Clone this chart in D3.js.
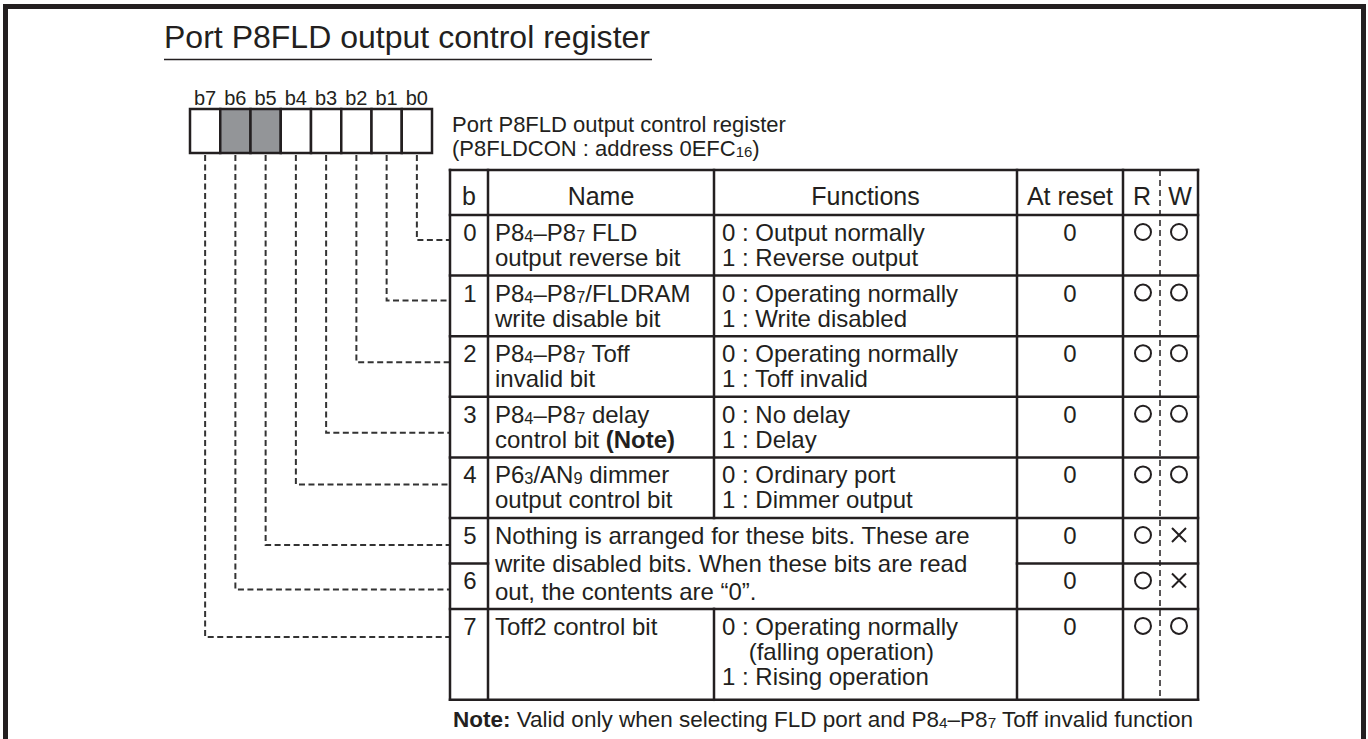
<!DOCTYPE html>
<html><head><meta charset="utf-8">
<script src="https://cdn.jsdelivr.net/npm/d3@7"></script>
<style>body{margin:0;background:#fff} svg{display:block} text{white-space:pre}</style>
</head><body>
<svg id="c" width="1368" height="739"></svg>
<script>
// ---------- data ----------
const titleText = "Port P8FLD output control register";
const registerBits = [7, 6, 5, 4, 3, 2, 1, 0];
const bitLabels = ["b7", "b6", "b5", "b4", "b3", "b2", "b1", "b0"];
const unusedBits = [6, 5];
const registerDesc = ["Port P8FLD output control register", "(P8FLDCON : address 0EFC{16})"];
const headers = ["b", "Name", "Functions", "At reset", "R", "W"];
const rowBits = [0, 1, 2, 3, 4, 5, 6, 7];
const rowLines = [2, 2, 2, 2, 2, 1.5, 1.5, 3];
const names = [
  ["P8{4}–P8{7} FLD", "output reverse bit"],
  ["P8{4}–P8{7}/FLDRAM", "write disable bit"],
  ["P8{4}–P8{7} Toff", "invalid bit"],
  ["P8{4}–P8{7} delay", "control bit **(Note)**"],
  ["P6{3}/AN{9} dimmer", "output control bit"],
  null, null,
  ["Toff2 control bit"]
];
const functionsText = [
  ["0 : Output normally", "1 : Reverse output"],
  ["0 : Operating normally", "1 : Write disabled"],
  ["0 : Operating normally", "1 : Toff invalid"],
  ["0 : No delay", "1 : Delay"],
  ["0 : Ordinary port", "1 : Dimmer output"],
  null, null,
  ["0 : Operating normally", "    (falling operation)", "1 : Rising operation"]
];
const mergedRows = [5, 6];
const mergedText = [
  "Nothing is arranged for these bits. These are",
  "write disabled bits. When these bits are read",
  "out, the contents are “0”."
];
const atReset = ["0", "0", "0", "0", "0", "0", "0", "0"];
const readFlags = ["O", "O", "O", "O", "O", "O", "O", "O"];
const writeFlags = ["O", "O", "O", "O", "O", "X", "X", "O"];
const noteText = "**Note:** Valid only when selecting FLD port and P8{4}–P8{7} Toff invalid function";

// ---------- layout ----------
const INK = "#231f20";
const FONT = "'Liberation Sans', Arial, Helvetica, sans-serif";
const svg = d3.select("#c");

const xBit = d3.scaleBand().domain(registerBits).range([190, 432]);
const regTop = 109, regBottom = 153;
const colKeys = ["b", "name", "func", "reset", "r", "w", "end"];
const colX = d3.scaleOrdinal().domain(colKeys).range([450, 488, 714, 1017, 1123, 1160, 1198]);
const headTop = 170, headBottom = 215;
const cum = [0]; rowLines.forEach((l, i) => cum.push(cum[i] + l));
const yUnit = d3.scaleLinear().domain([0, cum[cum.length - 1]]).range([headBottom, 699.8]);
const rowTop = i => yUnit(cum[i]);
const rowBottom = i => yUnit(cum[i + 1]);
const connOffset = [25, 25, 26, 36, 27, 27, 26, 28];

function richText(g, str, x, y, size, anchor) {
  const t = g.append("text").attr("x", x).attr("y", y)
    .attr("font-family", FONT).attr("font-size", size).attr("fill", INK)
    .attr("text-anchor", anchor || "start");
  const parts = str.split(/(\{[^}]*\}|\*\*[^*]+\*\*)/).filter(s => s.length);
  let shifted = false;
  parts.forEach(p => {
    if (p.startsWith("{")) {
      t.append("tspan").attr("font-size", "0.68em").attr("dy", shifted ? 0 : 1).text(p.slice(1, -1));
      shifted = true;
    } else {
      const ts = t.append("tspan");
      if (shifted) { ts.attr("dy", -1); shifted = false; }
      if (p.startsWith("**")) ts.attr("font-weight", "bold").text(p.slice(2, -2));
      else ts.text(p);
    }
  });
  return t;
}

// outer frame
svg.append("path").attr("d", "M5.5,760V6.5H1363.5V760")
  .attr("fill", "none").attr("stroke", INK).attr("stroke-width", 5);

// title
svg.append("text").attr("x", 164).attr("y", 48).attr("font-family", FONT)
  .attr("font-size", 32).attr("fill", INK).attr("textLength", 486).text(titleText);
svg.append("line").attr("x1", 164).attr("x2", 652).attr("y1", 59.5).attr("y2", 59.5)
  .attr("stroke", INK).attr("stroke-width", 1.5);

// bit labels
svg.append("g").selectAll("text").data(registerBits).join("text")
  .attr("x", d => xBit(d) + xBit.bandwidth() / 2).attr("y", 105)
  .attr("text-anchor", "middle").attr("font-family", FONT).attr("font-size", 20)
  .attr("fill", INK).text((d, i) => bitLabels[i]);

// register cells
svg.append("g").selectAll("rect").data(registerBits).join("rect")
  .attr("x", d => xBit(d)).attr("y", regTop)
  .attr("width", xBit.bandwidth()).attr("height", regBottom - regTop)
  .attr("fill", d => unusedBits.includes(d) ? "#939598" : "#fff")
  .attr("stroke", INK).attr("stroke-width", 2.5);

// register description
registerDesc.forEach((s, i) => richText(svg, s, 452, 132 + i * 24, 22));

// connectors
svg.append("g").selectAll("path").data(rowBits).join("path")
  .attr("d", b => {
    const x = xBit(b) + xBit.bandwidth() / 2;
    const y = rowTop(b) + connOffset[b];
    return `M${x},${regBottom + 2}V${y}H${colX("b")}`;
  })
  .attr("fill", "none").attr("stroke", "#333").attr("stroke-width", 2)
  .attr("stroke-dasharray", "6,3.5");

// table
const tg = svg.append("g");
const L = colX("b"), R = colX("end"), bottom = rowBottom(rowBits.length - 1);
function hline(x1, x2, y) { tg.append("line").attr("x1", x1).attr("x2", x2).attr("y1", y).attr("y2", y).attr("stroke", INK).attr("stroke-width", 2.5).attr("stroke-linecap", "square"); }
function vline(x, y1, y2) { tg.append("line").attr("x1", x).attr("x2", x).attr("y1", y1).attr("y2", y2).attr("stroke", INK).attr("stroke-width", 2.5).attr("stroke-linecap", "square"); }

hline(L, R, headTop); hline(L, R, headBottom);
rowBits.forEach(i => {
  const y = rowBottom(i);
  if (mergedRows.includes(i) && mergedRows.includes(i + 1)) {
    hline(L, colX("name"), y); hline(colX("reset"), R, y);
  } else hline(L, R, y);
});
["b", "name", "reset", "r", "end"].forEach(k => vline(colX(k), headTop, bottom));
vline(colX("func"), headTop, rowTop(mergedRows[0]));
vline(colX("func"), rowBottom(mergedRows[mergedRows.length - 1]), bottom);
tg.append("line").attr("x1", colX("w")).attr("x2", colX("w")).attr("y1", headTop).attr("y2", bottom)
  .attr("stroke", INK).attr("stroke-width", 1.5).attr("stroke-dasharray", "6,4");

// headers
const headCenters = [
  (colX("b") + colX("name")) / 2, (colX("name") + colX("func")) / 2,
  (colX("func") + colX("reset")) / 2, (colX("reset") + colX("r")) / 2,
  colX("r") + 19, colX("w") + 20
];
headers.forEach((h, i) => svg.append("text").attr("x", headCenters[i]).attr("y", headTop + 35)
  .attr("text-anchor", "middle").attr("font-family", FONT).attr("font-size", 25).attr("fill", INK).text(h));

// rows
const BODY = 24, LH = 25;
rowBits.forEach(i => {
  const top = rowTop(i);
  svg.append("text").attr("x", (colX("b") + colX("name")) / 2 + 1).attr("y", top + 26)
    .attr("text-anchor", "middle").attr("font-family", FONT).attr("font-size", BODY).attr("fill", INK).text(i);
  if (names[i]) names[i].forEach((s, k) => richText(svg, s, colX("name") + 7, top + 26 + k * LH, BODY));
  if (functionsText[i]) functionsText[i].forEach((s, k) => richText(svg, s, colX("func") + 8, top + 26 + k * LH, BODY));
  svg.append("text").attr("x", (colX("reset") + colX("r")) / 2).attr("y", top + 26)
    .attr("text-anchor", "middle").attr("font-family", FONT).attr("font-size", BODY).attr("fill", INK).text(atReset[i]);
  [[readFlags[i], colX("r") + 20], [writeFlags[i], colX("w") + 19]].forEach(([f, cx]) => {
    const cy = top + 17;
    if (f === "O") {
      svg.append("circle").attr("cx", cx).attr("cy", cy).attr("r", 8)
        .attr("fill", "none").attr("stroke", INK).attr("stroke-width", 2);
    } else {
      svg.append("path").attr("d", `M${cx - 7},${cy - 7}L${cx + 7},${cy + 7}M${cx + 7},${cy - 7}L${cx - 7},${cy + 7}`)
        .attr("stroke", INK).attr("stroke-width", 2);
    }
  });
});
mergedText.forEach((s, k) => richText(svg, s, colX("name") + 7, rowTop(mergedRows[0]) + 26 + k * 28, BODY));

// note
richText(svg, noteText, colX("b") + 3, 727, 22.5);
</script>
</body></html>
